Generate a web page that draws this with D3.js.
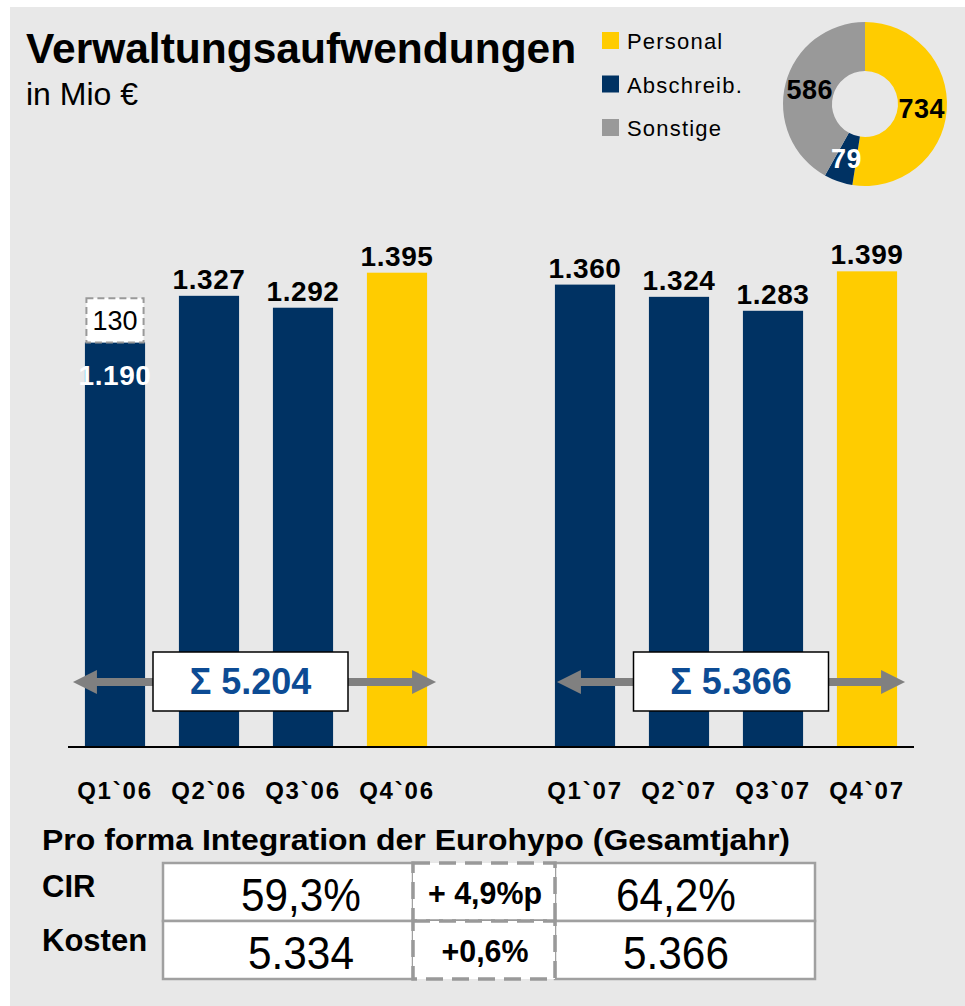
<!DOCTYPE html>
<html>
<head>
<meta charset="utf-8">
<script src="https://cdn.jsdelivr.net/npm/d3@7/dist/d3.min.js"></script>
<style>
  html,body{margin:0;padding:0;background:#fff;}
  svg{display:block;}
  text{font-family:"Liberation Sans",Arial,Helvetica,sans-serif;}
</style>
</head>
<body>
<svg id="chart" width="965" height="1006"></svg>
<script>
// ---------- data ----------
const categories = ["Q1`06","Q2`06","Q3`06","Q4`06","Q1`07","Q2`07","Q3`07","Q4`07"];
const values     = [1190, 1327, 1292, 1395, 1360, 1324, 1283, 1399];
const extraValues = [130, 0, 0, 0, 0, 0, 0, 0];
const highlighted = [false, false, false, true, false, false, false, true];
const sumGroups  = [["Q1`06","Q4`06"], ["Q1`07","Q4`07"]];
const sumValues  = [5204, 5366];

const pieLabels = ["Personal", "Abschreib.", "Sonstige"];
const pieValues = [734, 79, 586];

const tableRows   = ["CIR", "Kosten"];
const table2006   = ["59,3%", "5.334"];
const tableChange = ["+ 4,9%p", "+0,6%"];
const table2007   = ["64,2%", "5.366"];

// ---------- styles ----------
const NAVY = "#003263", YELLOW = "#ffcc00", GREY = "#999999", BG = "#e8e8e8";
const fmt = d3.formatLocale({decimal: ",", thousands: ".", grouping: [3], currency: ["", "€"]}).format(",d");

const svg = d3.select("#chart");
svg.append("rect").attr("x", 10).attr("y", 7).attr("width", 955).attr("height", 999).attr("fill", BG);

// ---------- title ----------
svg.append("text").attr("x", 26).attr("y", 63)
  .attr("font-size", 42.5).attr("font-weight", "bold").attr("fill", "#000")
  .text("Verwaltungsaufwendungen");
svg.append("text").attr("x", 26).attr("y", 105)
  .attr("font-size", 32).attr("fill", "#000")
  .text("in Mio €");

// ---------- legend ----------
const pieColor = d3.scaleOrdinal().domain(pieLabels).range([YELLOW, NAVY, GREY]);
const legend = svg.append("g");
pieLabels.forEach((l, i) => {
  const g = legend.append("g").attr("transform", `translate(602,${32 + i * 43.5})`);
  g.append("rect").attr("width", 17).attr("height", 17).attr("fill", pieColor(l));
  g.append("text").attr("x", 25).attr("y", 17).attr("font-size", 22)
    .attr("letter-spacing", 1.2).attr("fill", "#000").text(l);
});

// ---------- donut ----------
const pie = d3.pie().sort(null).value(d => d)(pieValues);
const arc = d3.arc().innerRadius(33).outerRadius(82);
const donut = svg.append("g").attr("transform", "translate(865,104)");
donut.selectAll("path").data(pie).join("path")
  .attr("d", arc).attr("fill", (d, i) => pieColor(pieLabels[i]));
const labelArc = d3.arc().innerRadius(57).outerRadius(57);
donut.selectAll("text").data(pie).join("text")
  .attr("transform", d => `translate(${labelArc.centroid(d)})`)
  .attr("text-anchor", "middle").attr("dy", "0.36em")
  .attr("font-size", 27).attr("font-weight", "bold").attr("letter-spacing", 0.5)
  .attr("fill", (d, i) => i === 1 ? "#fff" : "#000")
  .text(d => d.data);

// ---------- bar chart ----------
const slots = categories.slice(0, 4).concat(["__gap__"], categories.slice(4));
const x = d3.scaleBand().domain(slots).range([68, 914]).paddingInner(0.36).paddingOuter(0.18);
const y = d3.scaleLinear().domain([0, 1400]).range([747, 271]);

const bars = categories.map((c, i) => ({c, v: values[i], e: extraValues[i], h: highlighted[i]}));

svg.append("g").selectAll("rect").data(bars).join("rect")
  .attr("x", d => x(d.c)).attr("width", x.bandwidth())
  .attr("y", d => y(d.v)).attr("height", d => y(0) - y(d.v))
  .attr("fill", d => d.h ? YELLOW : NAVY);

// extra (dashed) segment
svg.append("g").selectAll("rect").data(bars.filter(d => d.e > 0)).join("rect")
  .attr("x", d => x(d.c) + 1.5).attr("width", x.bandwidth() - 3)
  .attr("y", d => y(d.v + d.e)).attr("height", d => y(d.v) - y(d.v + d.e))
  .attr("fill", "#fff").attr("stroke", "#999").attr("stroke-width", 2).attr("stroke-dasharray", "7,4");
svg.append("g").selectAll("text").data(bars.filter(d => d.e > 0)).join("text")
  .attr("x", d => x(d.c) + x.bandwidth() / 2).attr("y", d => (y(d.v) + y(d.v + d.e)) / 2)
  .attr("dy", "0.36em").attr("text-anchor", "middle").attr("font-size", 27).attr("fill", "#000")
  .text(d => fmt(d.e));

// value labels
svg.append("g").selectAll("text").data(bars).join("text")
  .attr("x", d => x(d.c) + x.bandwidth() / 2)
  .attr("y", d => d.e > 0 ? y(d.v) + 43 : y(d.v) - 7)
  .attr("text-anchor", "middle").attr("font-size", 28).attr("font-weight", "bold")
  .attr("letter-spacing", 0.6)
  .attr("fill", d => d.e > 0 ? "#fff" : "#000")
  .text(d => fmt(d.v));

// baseline axis
const xAxis = d3.axisBottom(x).tickSize(0).tickPadding(0).tickFormat(d => d === "__gap__" ? "" : d);
const axG = svg.append("g").attr("transform", `translate(0,${y(0)})`).call(xAxis);
axG.select(".domain").attr("stroke", "#000").attr("stroke-width", 2).attr("d", "M68,0H914");
axG.selectAll(".tick text")
  .attr("y", 52).attr("dy", 0)
  .attr("font-size", 24).attr("font-weight", "bold").attr("letter-spacing", 1.8)
  .attr("fill", "#000").attr("font-family", "Liberation Sans, Arial, sans-serif");

// sum annotations with arrows
const arrowOffsets = [[-12, 9], [2, 8]];
sumGroups.forEach((g, i) => {
  const x0 = x(g[0]) + arrowOffsets[i][0];
  const x1 = x(g[1]) + x.bandwidth() + arrowOffsets[i][1];
  const yy = 682, head = 24, hh = 12;
  const ag = svg.append("g");
  ag.append("rect").attr("x", x0 + head - 1).attr("y", yy - 4).attr("width", x1 - x0 - 2 * head + 2).attr("height", 8).attr("fill", "#808080");
  ag.append("path").attr("d", `M${x0},${yy}L${x0 + head},${yy - hh}L${x0 + head},${yy + hh}Z`).attr("fill", "#808080");
  ag.append("path").attr("d", `M${x1},${yy}L${x1 - head},${yy - hh}L${x1 - head},${yy + hh}Z`).attr("fill", "#808080");
  const cx = (x0 + x1) / 2 - (i === 0 ? 4 : 0);
  ag.append("rect").attr("x", cx - 97.5).attr("y", 652).attr("width", 195).attr("height", 59)
    .attr("fill", "#fff").attr("stroke", "#000").attr("stroke-width", 1.5);
  ag.append("text").attr("x", cx).attr("y", 694).attr("text-anchor", "middle")
    .attr("font-size", 36).attr("font-weight", "bold").attr("fill", "#0c4b94")
    .text("Σ " + fmt(sumValues[i]));
});

// ---------- table ----------
svg.append("text").attr("x", 42).attr("y", 850)
  .attr("font-size", 29).attr("font-weight", "bold").attr("fill", "#000")
  .attr("textLength", 748).attr("lengthAdjust", "spacingAndGlyphs")
  .text("Pro forma Integration der Eurohypo (Gesamtjahr)");

const rowY = d3.scaleBand().domain(tableRows).range([863, 979]);
const cols = [
  {x0: 163, x1: 413, vals: table2006, size: 47, bold: false, dashed: false, off: 13, sx: 0.9},
  {x0: 555, x1: 815, vals: table2007, size: 47, bold: false, dashed: false, off: -9, sx: 0.9},
  {x0: 413, x1: 555, vals: tableChange, size: 31, bold: true, dashed: true, off: 1, sx: 0.98}
];
const tG = svg.append("g");
tableRows.forEach((r, ri) => {
  const yT = rowY(r), h = rowY.bandwidth();
  tG.append("text").attr("x", 42).attr("y", yT + 34 + ri * -4)
    .attr("font-size", 31).attr("font-weight", "bold").attr("fill", "#000")
    .text(r);
  cols.forEach(c => {
    tG.append("rect").attr("x", c.x0).attr("y", yT).attr("width", c.x1 - c.x0).attr("height", h)
      .attr("fill", "#fff").attr("stroke", c.dashed ? "#999" : "#a0a0a0").attr("stroke-width", c.dashed ? 3.5 : 2.5)
      .attr("stroke-dasharray", c.dashed ? "17,9" : null);
  });
  cols.forEach(c => {
    const cx = (c.x0 + c.x1) / 2 + c.off;
    tG.append("text")
      .attr("transform", `translate(${cx},${yT + (c.dashed ? 41 : 48)}) scale(${c.sx},1)`)
      .attr("text-anchor", "middle").attr("font-size", c.size)
      .attr("font-weight", c.bold ? "bold" : "normal").attr("fill", "#000")
      .text(c.vals[ri]);
  });
});
</script>
</body>
</html>
